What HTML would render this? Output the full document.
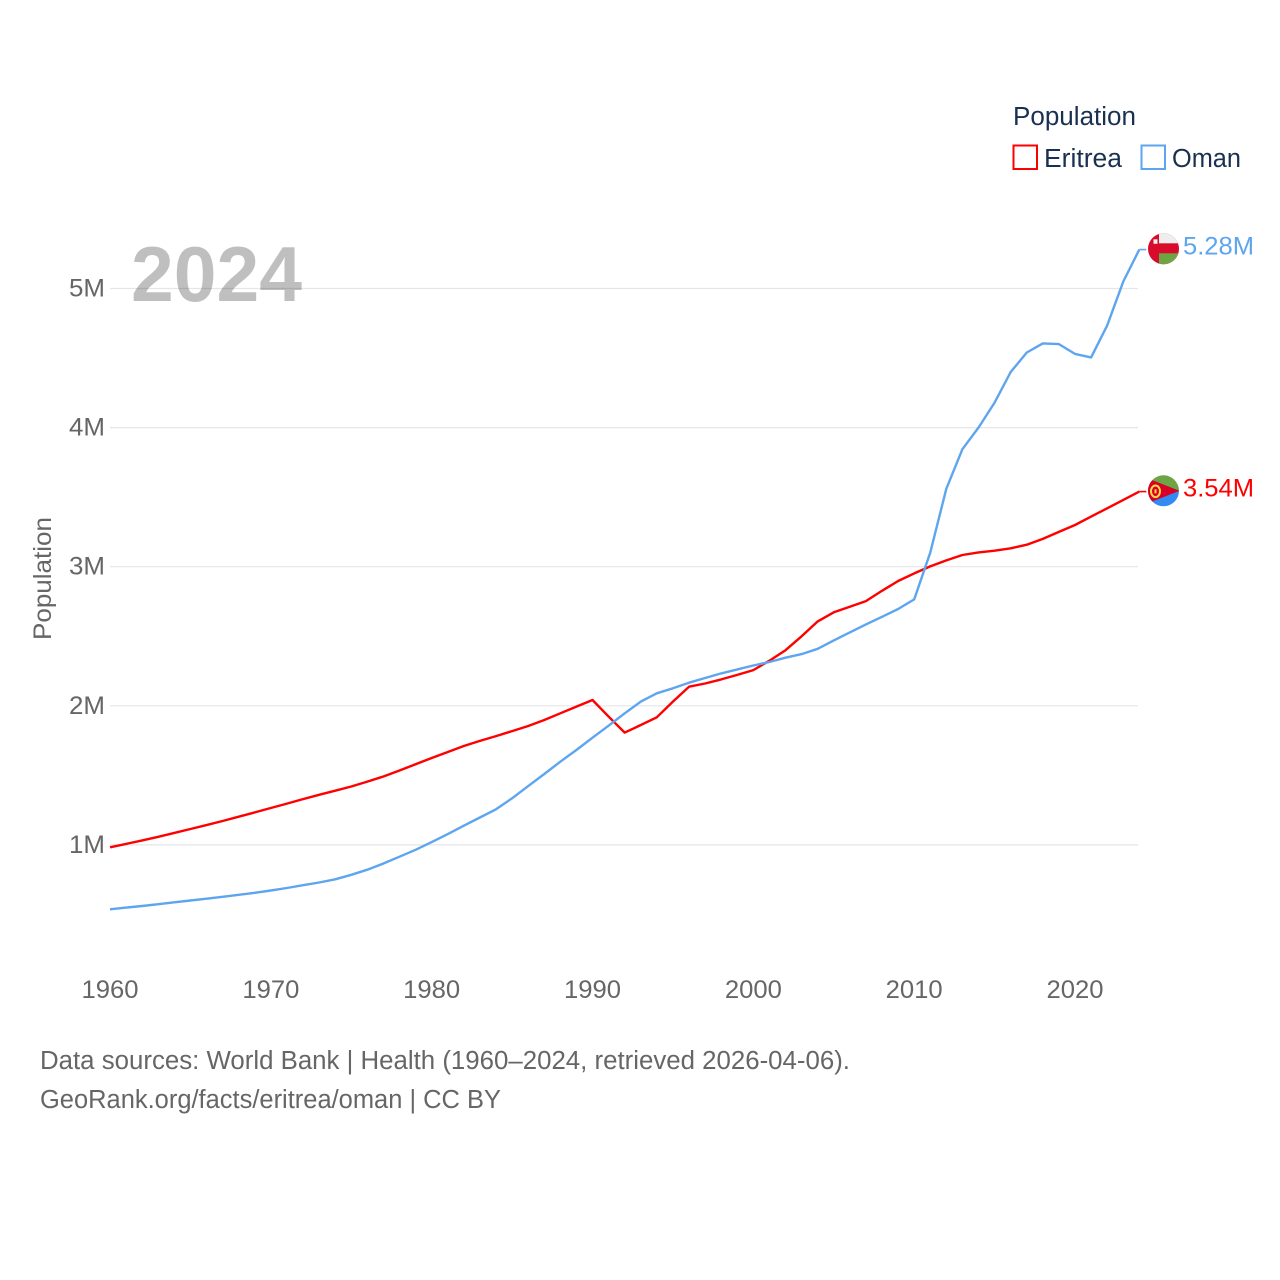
<!DOCTYPE html>
<html lang="en">
<head>
<meta charset="utf-8">
<title>Population: Eritrea and Oman</title>
<style>
html,body{margin:0;padding:0;background:#fff;}
svg{display:block;font-family:"Liberation Sans",sans-serif;}
</style>
</head>
<body>
<svg id="chart" xmlns="http://www.w3.org/2000/svg" width="1280" height="1280" viewBox="0 0 1280 1280">
  <defs>
    <clipPath id="flag-clip"><circle cx="0" cy="0" r="15.5"></circle></clipPath>
  </defs>
  <rect x="0" y="0" width="1280" height="1280" fill="#ffffff"></rect>
  <g id="grid"></g>
  <g id="yticks"></g>
  <g id="xticks"></g>
  <text transform="translate(51,640) rotate(-90)" font-size="25" fill="#666666" textLength="123" lengthAdjust="spacingAndGlyphs">Population</text>
  <text x="131" y="301" font-size="78" font-weight="bold" fill="#000000" fill-opacity="0.25" textLength="171" lengthAdjust="spacingAndGlyphs">2024</text>
  <g id="series"></g>

  <g id="flag-oman">
    <g clip-path="url(#flag-clip)">
      <rect x="-16" y="-16" width="32" height="32" fill="#d90b2c"></rect>
      <rect x="-4.5" y="-16" width="20" height="10.5" fill="#eeeeee"></rect>
      <rect x="-4.5" y="4.5" width="20" height="12" fill="#6da544"></rect>
      <rect x="-10" y="-9.5" width="4" height="4.5" fill="#f0f0f0"></rect>
    </g>
  </g>
  <g id="flag-eritrea">
    <g clip-path="url(#flag-clip)">
      <rect x="-16" y="-16" width="32" height="16" fill="#6da544"></rect>
      <rect x="-16" y="0" width="32" height="16" fill="#338af3"></rect>
      <polygon points="-16,-12.5 16,0 -16,12.5" fill="#d80027"></polygon>
      <ellipse cx="-8" cy="0.5" rx="4.5" ry="5.8" fill="none" stroke="#ffda44" stroke-width="2"></ellipse>
      <rect x="-9" y="-1.5" width="2" height="4" fill="#ffda44"></rect>
    </g>
  </g>

  <g>
    <text x="1013" y="125" font-size="25.5" fill="#1a3050" textLength="123" lengthAdjust="spacingAndGlyphs">Population</text>
    <g>
      <rect x="1013.5" y="145.5" width="23.5" height="23.5" fill="none" stroke="#ff0000" stroke-width="2"></rect>
      <text x="1044" y="167" font-size="25.5" fill="#1a3050" textLength="78" lengthAdjust="spacingAndGlyphs">Eritrea</text>
    </g>
    <g>
      <rect x="1141.5" y="145.5" width="23.5" height="23.5" fill="none" stroke="#5ea5ef" stroke-width="2"></rect>
      <text x="1172" y="167" font-size="25.5" fill="#1a3050" textLength="69" lengthAdjust="spacingAndGlyphs">Oman</text>
    </g>
  </g>

  <text x="40" y="1069" font-size="25.5" fill="#666666" textLength="810" lengthAdjust="spacingAndGlyphs">Data sources: World Bank | Health (1960–2024, retrieved 2026-04-06).</text>
  <text x="40" y="1108" font-size="25.5" fill="#666666" textLength="461" lengthAdjust="spacingAndGlyphs">GeoRank.org/facts/eritrea/oman | CC BY</text>
</svg>
<script>
const years = [1960,1961,1962,1963,1964,1965,1966,1967,1968,1969,1970,1971,1972,1973,1974,1975,1976,1977,1978,1979,1980,1981,1982,1983,1984,1985,1986,1987,1988,1989,1990,1991,1992,1993,1994,1995,1996,1997,1998,1999,2000,2001,2002,2003,2004,2005,2006,2007,2008,2009,2010,2011,2012,2013,2014,2015,2016,2017,2018,2019,2020,2021,2022,2023,2024];
const eritreaValues = [0.983,1.007,1.032,1.058,1.086,1.114,1.142,1.172,1.203,1.234,1.265,1.297,1.329,1.36,1.39,1.42,1.455,1.492,1.535,1.58,1.625,1.668,1.711,1.748,1.782,1.818,1.855,1.898,1.946,1.994,2.042,1.922,1.807,1.862,1.917,2.03,2.137,2.16,2.19,2.222,2.257,2.324,2.4,2.5,2.607,2.672,2.712,2.753,2.827,2.897,2.952,3.002,3.045,3.084,3.103,3.115,3.132,3.158,3.2,3.25,3.3,3.36,3.42,3.48,3.54];
const omanValues = [0.537,0.549,0.561,0.574,0.587,0.6,0.613,0.627,0.641,0.656,0.672,0.69,0.71,0.73,0.753,0.785,0.822,0.866,0.915,0.965,1.02,1.078,1.138,1.197,1.256,1.335,1.423,1.51,1.598,1.682,1.771,1.857,1.946,2.03,2.09,2.126,2.166,2.2,2.233,2.262,2.29,2.315,2.346,2.372,2.41,2.47,2.528,2.585,2.64,2.696,2.765,3.1,3.56,3.845,4.0,4.18,4.4,4.54,4.605,4.6,4.53,4.505,4.735,5.05,5.28];
const yTickValues = [1,2,3,4,5];
const yTickLabels = ["1M","2M","3M","4M","5M"];
const xTickValues = [1960,1970,1980,1990,2000,2010,2020];

const NS = "http://www.w3.org/2000/svg";
const xScale = function (year) { return 110 + (year - 1960) * (965 / 60); };
const yScale = function (value) { return 984 - value * 139.1; };

function make(tag, parent, attrs, text) {
  const el = document.createElementNS(NS, tag);
  Object.keys(attrs).forEach(function (key) { el.setAttribute(key, attrs[key]); });
  if (text !== undefined) { el.textContent = text; }
  parent.appendChild(el);
  return el;
}

const gridGroup = document.getElementById("grid");
const yTickGroup = document.getElementById("yticks");
yTickValues.forEach(function (value, i) {
  const line = make("line", gridGroup, { x1: 110, x2: 1138, y1: yScale(value), y2: yScale(value), stroke: "#e6e6e6", "stroke-width": 1.2 });
  
  
  const label = make("text", yTickGroup, { x: 105, y: yScale(value) + 8, "text-anchor": "end", "font-size": 25, fill: "#666666", textLength: 36, lengthAdjust: "spacingAndGlyphs" }, yTickLabels[i]);
  
  
});

const xTickGroup = document.getElementById("xticks");
xTickValues.forEach(function (year) {
  const label = make("text", xTickGroup, { x: xScale(year), y: 998, "text-anchor": "middle", "font-size": 25, fill: "#666666", textLength: 57, lengthAdjust: "spacingAndGlyphs" }, String(year));
  
  
});

const seriesGroup = document.getElementById("series");
function drawSeries(values, color, key, flagId) {
  const points = values.map(function (value, i) { return xScale(years[i]).toFixed(1) + "," + yScale(value).toFixed(1); });
  const line = make("polyline", seriesGroup, { points: points.join(" "), fill: "none", stroke: color, "stroke-width": 2.4, "stroke-linejoin": "round" });
  
  
  const last = values[values.length - 1];
  const endX = xScale(years[years.length - 1]);
  const endY = yScale(last);
  const stub = make("line", seriesGroup, { x1: endX, x2: endX + 7, y1: endY, y2: endY, stroke: color, "stroke-width": 1.6 });
  
  
  const label = make("text", seriesGroup, { x: 1183, y: endY + 5, "font-size": 25, fill: color, textLength: 71, lengthAdjust: "spacingAndGlyphs" }, last.toFixed(2) + "M");
  
  
  document.getElementById(flagId).setAttribute("transform", "translate(1163.5," + (endY - 0.8).toFixed(1) + ")");
}
drawSeries(eritreaValues, "#ff0000", "eritrea", "flag-eritrea");
drawSeries(omanValues, "#5ea5ef", "oman", "flag-oman");
</script>
</body>
</html>
